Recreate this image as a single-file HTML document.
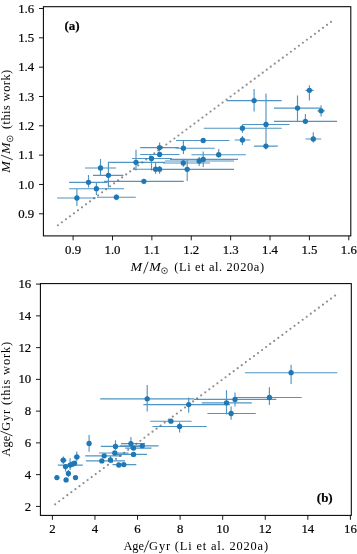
<!DOCTYPE html>
<html><head><meta charset="utf-8"><title>Mass and age comparison</title>
<style>
html,body{margin:0;padding:0;background:#fff;}
body{width:357px;height:554px;overflow:hidden;}
svg{display:block;will-change:transform;}
text{font-family:"Liberation Serif",serif;fill:#000;stroke:#000;stroke-width:0.2px;}
.tk text{font-size:12.8px;}
.lb text, text.lb{font-size:12.4px;stroke-width:0;}
.it{font-style:italic;stroke-width:0;}
.pl{font-size:13px;font-weight:bold;}
</style></head><body>
<svg width="357" height="554" viewBox="0 0 357 554">
<rect width="357" height="554" fill="#fff"/>
<path d="M57.90 225.25L335.00 18.85" stroke="#8e8e8e" stroke-width="2.2" stroke-linecap="round" stroke-dasharray="0 5.008" fill="none"/>
<path d="M55.15 504.30L335.10 295.55" stroke="#8e8e8e" stroke-width="2.2" stroke-linecap="round" stroke-dasharray="0 5.061" fill="none"/>
<path d="M57.1 198.0H95.9M76.9 188.8V205.9M69.1 182.3H107.5M88.5 174.9V187.5M69.1 188.7H124.0M96.4 182.8V195.0M85.0 168.0H116.1M100.5 159.0V175.5M93.0 175.3H123.4M108.4 161.7V187.5M97.0 197.2H135.8M116.4 194.5V200.3M104.0 181.3H183.7M143.9 179.5V183.0M108.3 162.3H165.0M136.0 149.8V170.5M132.1 158.5H172.0M151.5 156.0V170.5M140.2 147.6H178.8M159.6 142.5V151.5M140.0 154.5H179.5M159.6 152.0V157.0M132.8 169.2H180.0M155.6 162.6V173.7M138.4 169.2H190.0M159.6 166.0V173.7M175.5 148.2H214.8M183.4 141.0V154.0M163.0 163.0H210.0M183.3 159.5V166.8M150.0 169.3H234.0M187.2 159.2V181.0M165.0 161.0H234.0M199.2 157.0V166.0M170.0 159.4H238.0M203.2 151.4V167.0M176.0 140.5H229.5M203.2 138.5V142.5M191.4 154.7H245.8M218.7 149.0V157.5M203.7 128.2H281.7M242.4 124.8V132.7M234.6 140.0H250.3M242.4 136.0V145.0M226.7 100.6H281.7M254.1 89.0V111.4M242.4 124.5H289.6M266.0 93.4V143.9M254.0 146.1H277.8M265.9 142.7V149.5M274.0 108.1H321.0M297.5 95.5V121.0M274.0 121.3H337.1M305.4 114.0V122.0M305.5 90.3H313.7M309.4 85.3V100.4M317.5 110.8H324.8M321.1 105.2V116.6M305.5 139.0H321.2M313.3 132.2V142.5" stroke="#1f77b4" stroke-width="1.15" stroke-opacity="0.78" fill="none"/>
<g fill="#1f77b4"><circle cx="76.9" cy="198.0" r="2.65"/><circle cx="88.5" cy="182.3" r="2.65"/><circle cx="96.4" cy="188.7" r="2.65"/><circle cx="100.5" cy="168.0" r="2.65"/><circle cx="108.4" cy="175.3" r="2.65"/><circle cx="116.4" cy="197.2" r="2.65"/><circle cx="143.9" cy="181.3" r="2.65"/><circle cx="136.0" cy="162.3" r="2.65"/><circle cx="151.5" cy="158.5" r="2.65"/><circle cx="159.6" cy="147.6" r="2.65"/><circle cx="159.6" cy="154.5" r="2.65"/><circle cx="155.6" cy="169.2" r="2.65"/><circle cx="159.6" cy="169.2" r="2.65"/><circle cx="183.4" cy="148.2" r="2.65"/><circle cx="183.3" cy="163.0" r="2.65"/><circle cx="187.2" cy="169.3" r="2.65"/><circle cx="199.2" cy="161.0" r="2.65"/><circle cx="203.2" cy="159.4" r="2.65"/><circle cx="203.2" cy="140.5" r="2.65"/><circle cx="218.7" cy="154.7" r="2.65"/><circle cx="242.4" cy="128.2" r="2.65"/><circle cx="242.4" cy="140.0" r="2.65"/><circle cx="254.1" cy="100.6" r="2.65"/><circle cx="266.0" cy="124.5" r="2.65"/><circle cx="265.9" cy="146.1" r="2.65"/><circle cx="297.5" cy="108.1" r="2.65"/><circle cx="305.4" cy="121.3" r="2.65"/><circle cx="309.4" cy="90.3" r="2.65"/><circle cx="321.1" cy="110.8" r="2.65"/><circle cx="313.3" cy="139.0" r="2.65"/></g>

<path d="M68.4 470.0V477.0M65.5 464.6V471.5M60.2 460.2H66.6M63.3 456.5V464.0M57.8 465.1H82.8M70.1 458.2V470.0M73.8 457.0H80.2M76.8 451.6V461.2M89.1 435.0V451.8M85.2 455.8H122.0M85.9 460.9H125.0M110.4 455.5V463.0M100.8 446.4H140.0M115.5 440.3V450.0M99.0 453.0H128.6M112.5 464.6H136.3M121.0 443.6H145.0M130.9 437.0V449.0M125.2 448.1H151.5M115.0 454.4H147.0M120.0 445.8H158.6M100.2 398.8H194.0M147.2 385.0V411.5M150.2 421.2H191.6M152.4 426.5H206.8M179.6 422.3V432.4M143.4 404.6H230.0M188.7 397.6V412.8M201.8 402.8H251.8M226.5 390.3V414.5M194.0 399.4H276.3M235.0 392.6V406.4M207.4 413.5H255.7M231.1 406.4V419.7M236.0 397.5H301.7M269.4 387.3V404.9M244.9 372.7H337.3M291.1 364.8V384.0" stroke="#1f77b4" stroke-width="1.15" stroke-opacity="0.78" fill="none"/>
<g fill="#1f77b4"><circle cx="56.9" cy="477.6" r="2.65"/><circle cx="66.1" cy="479.9" r="2.65"/><circle cx="75.5" cy="477.6" r="2.65"/><circle cx="68.4" cy="473.4" r="2.65"/><circle cx="65.5" cy="466.6" r="2.65"/><circle cx="63.3" cy="460.2" r="2.65"/><circle cx="70.1" cy="465.1" r="2.65"/><circle cx="72.4" cy="464.2" r="2.65"/><circle cx="74.5" cy="463.2" r="2.65"/><circle cx="76.8" cy="457.0" r="2.65"/><circle cx="89.1" cy="443.4" r="2.65"/><circle cx="104.2" cy="455.8" r="2.65"/><circle cx="101.8" cy="460.9" r="2.65"/><circle cx="110.4" cy="459.9" r="2.65"/><circle cx="115.5" cy="446.4" r="2.65"/><circle cx="114.8" cy="453.0" r="2.65"/><circle cx="118.8" cy="465.0" r="2.65"/><circle cx="123.8" cy="464.6" r="2.65"/><circle cx="130.9" cy="443.6" r="2.65"/><circle cx="133.5" cy="448.1" r="2.65"/><circle cx="133.5" cy="454.4" r="2.65"/><circle cx="142.3" cy="445.8" r="2.65"/><circle cx="147.2" cy="398.8" r="2.65"/><circle cx="170.9" cy="421.2" r="2.65"/><circle cx="179.6" cy="426.5" r="2.65"/><circle cx="188.7" cy="404.6" r="2.65"/><circle cx="226.5" cy="402.8" r="2.65"/><circle cx="235.0" cy="399.4" r="2.65"/><circle cx="231.1" cy="413.5" r="2.65"/><circle cx="269.4" cy="397.5" r="2.65"/><circle cx="291.1" cy="372.7" r="2.65"/></g>

<rect x="43.4" y="6.7" width="307.4" height="229.2" fill="none" stroke="#000" stroke-width="1.05"/>

<rect x="40.4" y="283.6" width="310.9" height="231.8" fill="none" stroke="#000" stroke-width="1.05"/>

<path d="M73.10 235.9v4.4M112.49 235.9v4.4M151.87 235.9v4.4M191.26 235.9v4.4M230.64 235.9v4.4M270.03 235.9v4.4M309.41 235.9v4.4M348.80 235.9v4.4M43.4 213.80h-4.4M43.4 184.47h-4.4M43.4 155.14h-4.4M43.4 125.81h-4.4M43.4 96.49h-4.4M43.4 67.16h-4.4M43.4 37.83h-4.4M43.4 8.50h-4.4" stroke="#000" stroke-width="0.9" fill="none"/>

<path d="M52.40 515.4v4.4M94.97 515.4v4.4M137.54 515.4v4.4M180.11 515.4v4.4M222.69 515.4v4.4M265.26 515.4v4.4M307.83 515.4v4.4M350.40 515.4v4.4M40.4 506.40h-4.4M40.4 474.64h-4.4M40.4 442.89h-4.4M40.4 411.13h-4.4M40.4 379.37h-4.4M40.4 347.61h-4.4M40.4 315.86h-4.4M40.4 284.10h-4.4" stroke="#000" stroke-width="0.9" fill="none"/>

<g class="tk"><text x="73.10" y="254.0" text-anchor="middle">0.9</text><text x="112.49" y="254.0" text-anchor="middle">1.0</text><text x="151.87" y="254.0" text-anchor="middle">1.1</text><text x="191.26" y="254.0" text-anchor="middle">1.2</text><text x="230.64" y="254.0" text-anchor="middle">1.3</text><text x="270.03" y="254.0" text-anchor="middle">1.4</text><text x="309.41" y="254.0" text-anchor="middle">1.5</text><text x="348.80" y="254.0" text-anchor="middle">1.6</text><text x="34.2" y="217.90" text-anchor="end">0.9</text><text x="34.2" y="188.57" text-anchor="end">1.0</text><text x="34.2" y="159.24" text-anchor="end">1.1</text><text x="34.2" y="129.91" text-anchor="end">1.2</text><text x="34.2" y="100.59" text-anchor="end">1.3</text><text x="34.2" y="71.26" text-anchor="end">1.4</text><text x="34.2" y="41.93" text-anchor="end">1.5</text><text x="34.2" y="12.60" text-anchor="end">1.6</text></g>

<g class="tk"><text x="52.40" y="533.4" text-anchor="middle">2</text><text x="94.97" y="533.4" text-anchor="middle">4</text><text x="137.54" y="533.4" text-anchor="middle">6</text><text x="180.11" y="533.4" text-anchor="middle">8</text><text x="222.69" y="533.4" text-anchor="middle">10</text><text x="265.26" y="533.4" text-anchor="middle">12</text><text x="307.83" y="533.4" text-anchor="middle">14</text><text x="350.40" y="533.4" text-anchor="middle">16</text><text x="31.2" y="510.50" text-anchor="end">2</text><text x="31.2" y="478.74" text-anchor="end">4</text><text x="31.2" y="446.99" text-anchor="end">6</text><text x="31.2" y="415.23" text-anchor="end">8</text><text x="31.2" y="383.47" text-anchor="end">10</text><text x="31.2" y="351.71" text-anchor="end">12</text><text x="31.2" y="319.96" text-anchor="end">14</text><text x="31.2" y="288.20" text-anchor="end">16</text></g>

<text class="pl" x="64.4" y="30.3">(a)</text>
<text class="pl" x="316.8" y="501.7">(b)</text>
<g class="lb" transform="translate(130.2 270.6)"><text x="0.3" y="0" class="it" textLength="11.6" lengthAdjust="spacingAndGlyphs">M</text><path d="M13.4 2.9L18.0 -8.9" stroke="#000" stroke-width="0.8"/><text x="19.0" y="0" class="it" textLength="11.5" lengthAdjust="spacingAndGlyphs">M</text><circle cx="34.3" cy="0.1" r="2.9" fill="none" stroke="#000" stroke-width="0.65"/><circle cx="34.3" cy="0.1" r="0.75" fill="#000"/><text x="44.0" y="0" textLength="89.9" lengthAdjust="spacing">(Li et al. 2020a)</text></g>
<g class="lb" transform="translate(9.9 173.1) rotate(-90)"><text x="0.3" y="0" class="it" textLength="11.6" lengthAdjust="spacingAndGlyphs">M</text><path d="M13.4 2.9L18.0 -8.9" stroke="#000" stroke-width="0.8"/><text x="19.0" y="0" class="it" textLength="11.5" lengthAdjust="spacingAndGlyphs">M</text><circle cx="34.3" cy="0.1" r="2.9" fill="none" stroke="#000" stroke-width="0.65"/><circle cx="34.3" cy="0.1" r="0.75" fill="#000"/><text x="44.0" y="0" textLength="59.3" lengthAdjust="spacing">(this work)</text></g>
<g class="lb" transform="translate(123.4 549.8)"><text x="0" y="0">Age</text><path d="M20.6 2.7L25.4 -9.3" stroke="#000" stroke-width="0.8"/><text x="25.7" y="0" textLength="119.0" lengthAdjust="spacing">Gyr (Li et al. 2020a)</text></g>
<g class="lb" transform="translate(9.8 456.5) rotate(-90)"><text x="0" y="0">Age</text><path d="M20.6 2.7L25.4 -9.3" stroke="#000" stroke-width="0.8"/><text x="25.7" y="0" textLength="88.9" lengthAdjust="spacing">Gyr (this work)</text></g>
</svg>
</body></html>
